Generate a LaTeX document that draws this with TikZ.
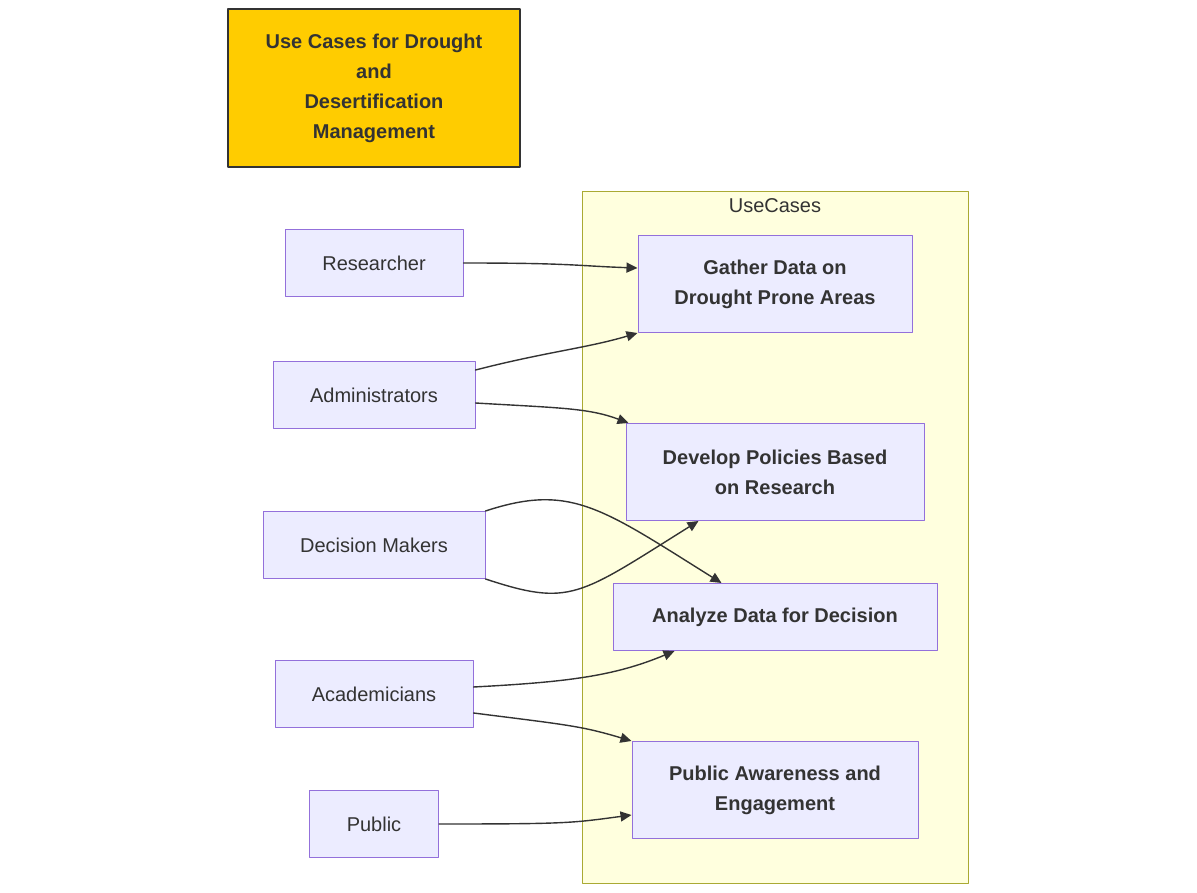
\documentclass[tikz,border=0pt]{standalone}
\usepackage{fontspec}
\setmainfont{Liberation Sans}
\usepackage{xcolor}
\usetikzlibrary{positioning,arrows.meta}

\definecolor{actorfill}{HTML}{ECECFF}
\definecolor{actordraw}{HTML}{9370DB}
\definecolor{groupfill}{HTML}{FFFFDE}
\definecolor{groupdraw}{HTML}{AAAA33}
\definecolor{titlefill}{HTML}{FFCC00}
\definecolor{darktext}{HTML}{333333}

\begin{document}
\begin{tikzpicture}[
    x=1pt, y=-1pt,
    box/.style = {
        rectangle,
        draw=actordraw,
        fill=actorfill,
        line width=1pt,
        inner sep=0pt,
        align=center,
        text=darktext,
        font=\fontsize{20}{30}\selectfont
    },
    actor/.style   = {box},
    usecase/.style = {box, font=\fontsize{20}{30}\selectfont\bfseries},
    titlebox/.style = {box, fill=titlefill, draw=darktext, line width=2.5pt,
        font=\fontsize{20}{30}\selectfont\bfseries},
    cluster/.style = {rectangle, draw=groupdraw, fill=groupfill, line width=1pt, inner sep=0pt},
    arrow/.style = {-{Triangle[length=11pt,width=10pt]}, line width=1.4pt, draw=darktext},
    line cap=round, line join=round
]
\useasboundingbox (0,0) rectangle (1197,893);

% Title
\node[titlebox, minimum width=292, minimum height=158] (title) at (374,88)
    {Use Cases for Drought\\and\\Desertification\\Management};

% Group of use cases
\node[cluster, minimum width=386, minimum height=691] (usecases) at (775,537.5) {};
\node[text=darktext, font=\fontsize{20}{24}\selectfont] (usecaseslabel) at (775,206) {UseCases};

% Actors (left column)
\node[actor, minimum width=178, minimum height=67] (researcher)     at (374,263) {Researcher};
\node[actor, minimum width=202, minimum height=67] (admins)         at (374,395) {Administrators};
\node[actor, minimum width=222, minimum height=67] (decisionmakers) at (374,545) {Decision Makers};
\node[actor, minimum width=198, minimum height=67] (academicians)   at (374,694) {Academicians};
\node[actor, minimum width=129, minimum height=67] (public)         at (374,824) {Public};

% Use cases (right column)
\node[usecase, minimum width=274, minimum height=97] (gatherdata) at (775,284)
    {Gather Data on\\Drought Prone Areas};
\node[usecase, minimum width=298, minimum height=97] (policies)   at (775,472)
    {Develop Policies Based\\on Research};
\node[usecase, minimum width=324, minimum height=67] (analyze)    at (775,617)
    {Analyze Data for Decision};
\node[usecase, minimum width=286, minimum height=97] (awareness)  at (775,790)
    {Public Awareness and\\Engagement};

% Arrows
\draw[arrow] (researcher.east) .. controls +(110,0) and +(-60,-2) .. ([yshift=16pt]gatherdata.west);
\draw[arrow] ([yshift=25pt]admins.east) .. controls +(70,-18) and +(-50,15) .. (gatherdata.south west);
\draw[arrow] ([yshift=-8pt]admins.east) .. controls +(85,5) and +(-40,-15) .. ([xshift=3pt]policies.north west);
\draw[arrow] (decisionmakers.north east) .. controls +(85,-28) and +(-120,-75) .. ([xshift=109pt]analyze.north west);
\draw[arrow] (decisionmakers.south east) .. controls +(85,28) and +(-120,75) .. ([xshift=73pt]policies.south west);
\draw[arrow] ([yshift=7pt]academicians.east) .. controls +(95,-5) and +(-60,25) .. ([xshift=62pt]analyze.south west);
\draw[arrow] ([yshift=-19pt]academicians.east) .. controls +(95,12) and +(-50,-15) .. (awareness.north west);
\draw[arrow] (public.east) .. controls +(130,0) and +(-60,8) .. ([yshift=-25pt]awareness.west);

\end{tikzpicture}
\end{document}
